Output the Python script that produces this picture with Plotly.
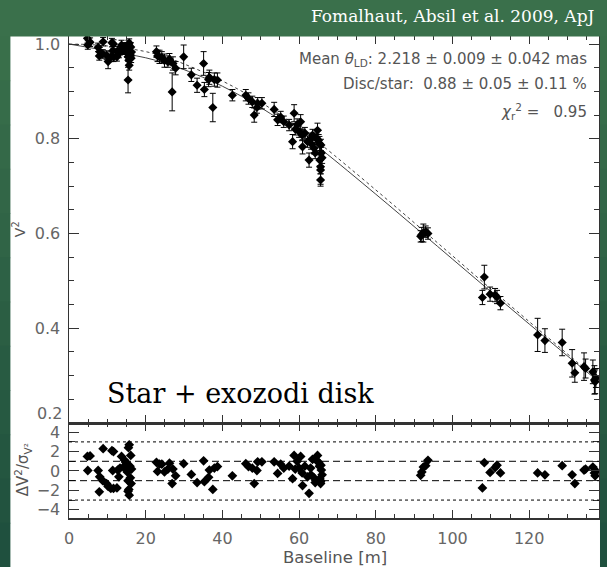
import plotly.graph_objects as go

# ---------------- data ----------------
baseline = [4.8, 4.9, 5.5, 7.6, 7.9, 8.0, 8.9, 8.8, 9.8, 10.2, 10.9, 11.2, 11.6, 11.4, 11.6,
            12.5, 12.7, 13.0, 13.3, 13.7, 14.2, 14.5, 14.8, 15.0, 15.2, 15.4, 15.4, 15.5, 15.6,
            15.7, 15.7, 15.9, 16.0, 16.1, 16.2, 16.3,
            22.8, 23.1, 23.6, 24.2, 24.9, 25.8, 26.2, 26.9, 27.1, 27.8, 29.9, 31.9, 33.4, 35.1,
            35.3, 36.4, 36.6, 37.5, 37.9, 38.7, 42.6,
            46.1, 46.8, 47.8, 48.3, 49.2, 49.0, 50.3, 53.5, 54.4, 55.2, 56.0, 57.4, 58.7, 58.3,
            59.0, 59.5, 60.0, 60.4, 60.8, 60.9, 61.5, 62.2, 62.6, 63.0, 63.1, 63.5, 63.9, 64.2,
            64.5, 64.8, 65.1, 65.3, 65.4, 65.6, 65.6, 65.6, 65.7, 65.8, 66.0,
            91.7, 92.0, 92.4, 93.0, 93.6,
            107.8, 108.3, 109.8, 111.1, 111.6, 112.5,
            122.2, 124.1, 128.6, 131.2, 131.9, 134.3, 134.7, 136.6, 137.0, 137.4, 137.2]

v2 = [1.012, 0.998, 1.004, 0.993, 0.975, 0.984, 1.005, 0.979, 0.976, 0.963, 0.972, 1.003, 1.000, 0.986, 0.972,
      0.973, 0.986, 0.980, 0.986, 0.998, 0.987, 0.994, 0.990, 0.987, 0.981, 0.973, 0.924, 0.999, 0.966,
      0.955, 1.002, 0.985, 0.977, 0.994, 0.970, 0.983,
      0.984, 0.975, 0.973, 0.972, 0.965, 0.963, 0.968, 0.899, 0.959, 0.949, 0.973, 0.935, 0.913, 0.959,
      0.904, 0.925, 0.930, 0.866, 0.925, 0.924, 0.892,
      0.892, 0.885, 0.878, 0.850, 0.875, 0.866, 0.875, 0.862, 0.840, 0.846, 0.836, 0.829, 0.854, 0.794,
      0.820, 0.830, 0.815, 0.836, 0.808, 0.783, 0.812, 0.794, 0.755, 0.800, 0.790, 0.808, 0.780, 0.770,
      0.800, 0.818, 0.797, 0.790, 0.755, 0.741, 0.713, 0.734, 0.787, 0.770, 0.760,
      0.594, 0.598, 0.601, 0.604, 0.600,
      0.465, 0.508, 0.472, 0.470, 0.466, 0.453,
      0.386, 0.374, 0.370, 0.326, 0.306, 0.319, 0.315, 0.308, 0.291, 0.295, 0.287]

v2_err = [0.010, 0.009, 0.009, 0.009, 0.009, 0.009, 0.009, 0.009, 0.009, 0.015, 0.009, 0.009, 0.009, 0.009, 0.009,
          0.009, 0.009, 0.009, 0.009, 0.010, 0.009, 0.009, 0.009, 0.009, 0.009, 0.009, 0.027, 0.009, 0.009,
          0.010, 0.009, 0.009, 0.009, 0.009, 0.009, 0.009,
          0.012, 0.012, 0.014, 0.012, 0.014, 0.012, 0.012, 0.040, 0.014, 0.014, 0.025, 0.014, 0.015, 0.025,
          0.015, 0.015, 0.015, 0.030, 0.014, 0.015, 0.012,
          0.012, 0.012, 0.012, 0.015, 0.012, 0.012, 0.012, 0.015, 0.012, 0.012, 0.012, 0.012, 0.018, 0.015,
          0.012, 0.012, 0.012, 0.015, 0.012, 0.015, 0.012, 0.012, 0.015, 0.012, 0.012, 0.012, 0.012, 0.012,
          0.012, 0.015, 0.012, 0.015, 0.012, 0.015, 0.013, 0.030, 0.012, 0.012, 0.012,
          0.012, 0.015, 0.019, 0.012, 0.012,
          0.015, 0.025, 0.015, 0.014, 0.014, 0.014,
          0.035, 0.025, 0.028, 0.029, 0.020, 0.029, 0.020, 0.025, 0.030, 0.020, 0.025]

residual = [1.50, 0.05, 1.55, 0.05, -2.15, -0.60, 2.30, -1.00, -1.30, -1.60, -1.80, 2.10, 2.00, 0.05, -1.80,
            -1.75, 0.10, -0.60, 0.30, 1.50, 0.40, 1.10, 0.90, 0.30, -0.10, -1.00, -2.10, 2.40, -1.90,
            -2.50, 2.70, 0.50, -0.70, 1.60, -1.30, 0.20,
            0.90, -0.05, 0.70, 0.70, -0.10, 0.20, 0.80, -1.30, 0.20, -0.50, 0.75, -0.35, -1.20, 1.05,
            -1.10, -0.65, 0.10, -1.90, 0.30, 0.45, -0.50,
            0.75, 0.45, 0.30, -1.30, 0.95, 0.05, 0.95, 0.95, -0.25, 0.70, 0.30, 0.50, 1.60, -0.80,
            0.20, 1.00, 0.30, 1.50, -0.20, -1.50, 0.50, -0.60, -2.30, 0.30, -0.40, 1.20, -0.70, -1.20,
            1.10, 1.60, 0.90, 0.50, -0.80, -1.30, -1.10, -1.00, 0.60, 0.10, -0.40,
            -0.45, -0.10, 0.40, 0.55, 1.10,
            -1.75, 0.85, -0.15, 0.35, 0.60, -0.20,
            -0.20, -0.40, 0.55, -0.40, -1.30, 0.10, 0.20, 0.40, -0.20, 0.00, -0.50]

model_baseline = [0, 5, 10, 15, 20, 25, 30, 40, 50, 60, 66, 80, 92, 100, 108, 120, 132, 138.2]
model_star_disk = [1.000, 0.993, 0.986, 0.979, 0.971, 0.960, 0.946, 0.911, 0.866, 0.812, 0.776,
                   0.683, 0.601, 0.546, 0.491, 0.409, 0.328, 0.287]
model_star_only = [1.000, 0.999, 0.996, 0.991, 0.984, 0.973, 0.958, 0.922, 0.877, 0.823, 0.786,
                   0.692, 0.609, 0.553, 0.497, 0.414, 0.332, 0.290]

x_ticks = [0, 20, 40, 60, 80, 100, 120]
v2_ticks = [0.4, 0.6, 0.8, 1.0]
v2_ticktext = ["0.4", "0.6", "0.8", "1.0"]
v2_bottom_label = "0.2"
res_ticks = [-4, -2, 0, 2, 4]
res_ticktext = ["\u22124", "\u22122", "0", "2", "4"]

# ---------------- layout geometry (pixels) ----------------
W, H = 607, 567
ML, MR, MT, MB = 69, 6, 36, 49
PW, PH = W - ML - MR, H - MT - MB
SPLIT = 423  # pixel row of the panel boundary


def px(x):
    return (x - ML) / PW


def py(y):
    return (H - MB - y) / PH


split_frac = py(SPLIT)

GREEN_TOP = "#3a704b"
GREEN_BOT = "#1e4f3d"
TXT = "#555555"
AX = "#333333"
TICKFONT = dict(family="DejaVu Sans", size=16, color="#666666")

fig = go.Figure()

# model curves (main panel)
fig.add_trace(go.Scatter(x=model_baseline, y=model_star_only, mode="lines", xaxis="x2", yaxis="y2",
                         line=dict(color="#444444", width=1, dash="dot", shape="spline"),
                         hoverinfo="skip", showlegend=False))
fig.add_trace(go.Scatter(x=model_baseline, y=model_star_disk, mode="lines", xaxis="x2", yaxis="y2",
                         line=dict(color="#444444", width=1, shape="spline"),
                         hoverinfo="skip", showlegend=False))

# data with error bars
fig.add_trace(go.Scatter(x=baseline, y=v2, mode="markers", xaxis="x2", yaxis="y2",
                         marker=dict(symbol="diamond", size=7, color="black", line=dict(width=0)),
                         error_y=dict(type="data", array=v2_err, visible=True, color="black",
                                      thickness=1, width=3),
                         showlegend=False))

# residuals
fig.add_trace(go.Scatter(x=baseline, y=residual, mode="markers", xaxis="x", yaxis="y",
                         marker=dict(symbol="diamond", size=7.5, color="black", line=dict(width=0)),
                         showlegend=False))

shapes = []
# white slide panel
shapes.append(dict(type="rect", xref="paper", yref="paper", x0=px(10), x1=px(602), y0=py(H + 2), y1=py(36),
                   fillcolor="white", line=dict(width=0), layer="below"))
# reference lines in residual panel
for lvl, dash in [(1, "7px,4px"), (-1, "7px,4px"), (3, "dot"), (-3, "dot")]:
    shapes.append(dict(type="line", xref="paper", yref="y", x0=0, x1=1, y0=lvl, y1=lvl,
                       line=dict(color="black", width=1, dash=dash), layer="above"))
# green band at top (covers the upper frame)
shapes.append(dict(type="rect", xref="paper", yref="paper", x0=px(-2), x1=px(W + 2), y0=py(36.5), y1=py(-2),
                   fillcolor=GREEN_TOP, line=dict(width=0), layer="above"))


def mix(c1, c2, t):
    a = [int(c1[i:i + 2], 16) for i in (1, 3, 5)]
    b = [int(c2[i:i + 2], 16) for i in (1, 3, 5)]
    return "#" + "".join(f"{round(a[k] + (b[k] - a[k]) * t):02x}" for k in range(3))


# left / right strips with gradient
n = 12
for i in range(n):
    y0 = 36 + (H - 36) * i / n
    y1 = 36 + (H - 36) * (i + 1) / n + 1
    col = mix(GREEN_TOP, GREEN_BOT, (i + 0.5) / n)
    shapes.append(dict(type="rect", xref="paper", yref="paper", x0=px(-2), x1=px(10), y0=py(y1), y1=py(y0),
                       fillcolor=col, line=dict(width=0), layer="above"))
    shapes.append(dict(type="rect", xref="paper", yref="paper", x0=px(602), x1=px(W + 2), y0=py(y1), y1=py(y0),
                       fillcolor=col, line=dict(width=0), layer="above"))

annotations = [
    dict(text="Fomalhaut, Absil et al. 2009, ApJ", xref="paper", yref="paper", x=px(599), y=py(16),
         xanchor="right", yanchor="middle", showarrow=False,
         font=dict(family="DejaVu Serif", size=17, color="white")),
    dict(text="Mean <i>θ</i><sub>LD</sub>: 2.218 ± 0.009 ± 0.042 mas", xref="paper", yref="paper",
         x=px(591), y=py(59), xanchor="right", yanchor="middle", showarrow=False,
         font=dict(family="DejaVu Sans", size=15, color=TXT)),
    dict(text="Disc/star:\u00a0\u00a00.88 ± 0.05 ± 0.11 %", xref="paper", yref="paper",
         x=px(591), y=py(84), xanchor="right", yanchor="middle", showarrow=False,
         font=dict(family="DejaVu Sans", size=15, color=TXT)),
    dict(text="<i>χ</i><sub>r</sub><sup>2</sup> =\u00a0\u00a0\u00a00.95", xref="paper", yref="paper",
         x=px(591), y=py(111), xanchor="right", yanchor="middle", showarrow=False,
         font=dict(family="DejaVu Sans", size=15, color=TXT)),
    dict(text="Star + exozodi disk", xref="paper", yref="paper", x=px(105), y=py(393),
         xanchor="left", yanchor="middle", showarrow=False,
         font=dict(family="DejaVu Serif", size=27, color="black")),
    dict(text=v2_bottom_label, xref="paper", yref="paper", x=px(64), y=py(413),
         xanchor="right", yanchor="middle", showarrow=False, font=TICKFONT),
    dict(text="V<sup>2</sup>", xref="paper", yref="paper", x=px(19), y=py(229), textangle=-90,
         xanchor="center", yanchor="middle", showarrow=False,
         font=dict(family="DejaVu Sans", size=14, color=TXT)),
    dict(text="ΔV<sup>2</sup>/σ<sub>V²</sub>", xref="paper", yref="paper", x=px(22), y=py(470), textangle=-90,
         xanchor="center", yanchor="middle", showarrow=False,
         font=dict(family="DejaVu Sans", size=15, color=TXT)),
    dict(text="Baseline [m]", xref="paper", yref="paper", x=px(336), y=py(557),
         xanchor="center", yanchor="middle", showarrow=False,
         font=dict(family="DejaVu Sans", size=16.5, color=TXT)),
]

common_x = dict(range=[0, 138.2], tickvals=x_ticks, ticks="inside", ticklen=8, tickwidth=1,
                tickcolor=AX, showline=True, linecolor=AX, linewidth=1.5, mirror="ticks",
                showgrid=False, zeroline=False,
                minor=dict(dtick=5, tick0=0, ticks="inside", ticklen=4, tickcolor=AX, tickwidth=1,
                           showgrid=False))

fig.update_layout(
    width=W, height=H,
    margin=dict(l=ML, r=MR, t=MT, b=MB, pad=0),
    paper_bgcolor="#2c5f44", plot_bgcolor="white",
    showlegend=False,
    xaxis=dict(**common_x, anchor="y", domain=[0, 1], tickfont=TICKFONT, ticklabelstandoff=5),
    xaxis2=dict(**common_x, anchor="y2", domain=[0, 1], matches="x", showticklabels=False),
    yaxis=dict(domain=[0, split_frac], range=[-4.85, 4.95], tickvals=res_ticks, ticktext=res_ticktext,
               ticks="inside", ticklen=10, tickwidth=1, tickcolor=AX, showline=True, linecolor=AX,
               linewidth=1.5, mirror="ticks", showgrid=False, zeroline=False, tickfont=TICKFONT,
               ticklabelstandoff=4,
               minor=dict(dtick=1, tick0=0, ticks="inside", ticklen=6, tickcolor=AX, tickwidth=1,
                          showgrid=False)),
    yaxis2=dict(domain=[split_frac, 1], range=[0.2, 1.017], tickvals=v2_ticks, ticktext=v2_ticktext,
                ticks="inside", ticklen=10, tickwidth=1, tickcolor=AX, showline=True, linecolor=AX,
                linewidth=1.5, mirror="ticks", showgrid=False, zeroline=False, tickfont=TICKFONT,
                ticklabelstandoff=4, anchor="x2",
                minor=dict(dtick=0.05, tick0=0, ticks="inside", ticklen=5, tickcolor=AX, tickwidth=1,
                           showgrid=False)),
    shapes=shapes,
    annotations=annotations,
)

fig.write_html("out.html",
               config={"displayModeBar": False, "staticPlot": True},
               post_script="document.body.style.margin='0px';document.body.style.overflow='hidden';")
